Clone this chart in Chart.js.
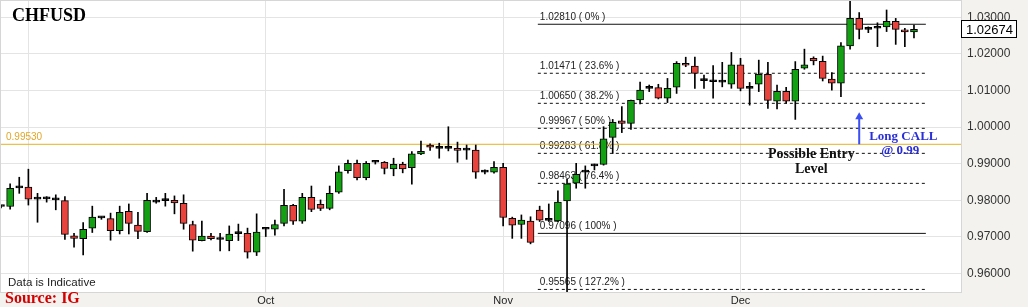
<!DOCTYPE html>
<html>
<head>
<meta charset="utf-8">
<title>CHFUSD</title>
<script src="https://cdn.jsdelivr.net/npm/chart.js@4.4.1/dist/chart.umd.min.js"></script>
<style>
  html, body { margin: 0; padding: 0; background: #f3f2ee; }
  #wrap { width: 1028px; height: 307px; }
</style>
</head>
<body>
<div id="wrap"><canvas id="chart" width="1028" height="307"></canvas></div>
<script>
// daily candles 29 Aug - 23 Dec (Sunday sessions in, Saturdays out)
const opens = [
  0.9783, 0.9783, 0.9834, 0.9836, 0.9803, 0.9804, 0.9801, 0.9799, 0.9703, 0.9695,
  0.9724, 0.9752, 0.9750, 0.9717, 0.9770, 0.9732, 0.9714, 0.9795, 0.9799, 0.9800,
  0.9792, 0.9734, 0.9690, 0.9702, 0.9693, 0.9690, 0.9709, 0.9710, 0.9658, 0.9721,
  0.9721, 0.9737, 0.9786, 0.9743, 0.9808, 0.9789, 0.9778, 0.9822, 0.9881, 0.9901,
  0.9862, 0.9904, 0.9904, 0.9886, 0.9898, 0.9889, 0.9927, 0.9951, 0.9942, 0.9942,
  0.9942, 0.9937, 0.9937, 0.9877, 0.9877, 0.9890, 0.9751, 0.9734, 0.9743, 0.9773,
  0.9745, 0.9744, 0.9798, 0.9847, 0.9877, 0.9894, 0.9898, 0.9972, 1.0017, 1.0010,
  1.0074, 1.0106, 1.0108, 1.0079, 1.0109, 1.0174, 1.0167, 1.0127, 1.0124, 1.0124,
  1.0117, 1.0170, 1.0106, 1.0117, 1.0144, 1.0071, 1.0098, 1.0071, 1.0161, 1.0188,
  1.0180, 1.0131, 1.0120, 1.0222, 1.0297, 1.0267, 1.0270, 1.0274, 1.0289, 1.0266,
  1.0260
];
const highs = [
  0.9786, 0.9845, 0.9863, 0.9885, 0.9819, 0.9810, 0.9815, 0.9810, 0.9710, 0.9739,
  0.9784, 0.9755, 0.9765, 0.9784, 0.9790, 0.9767, 0.9819, 0.9808, 0.9819, 0.9812,
  0.9815, 0.9743, 0.9743, 0.9710, 0.9710, 0.9730, 0.9735, 0.9724, 0.9763, 0.9726,
  0.9746, 0.9830, 0.9789, 0.9819, 0.9839, 0.9801, 0.9839, 0.9894, 0.9910, 0.9910,
  0.9906, 0.9907, 0.9906, 0.9915, 0.9904, 0.9933, 0.9962, 0.9954, 0.9956, 1.0001,
  0.9959, 0.9951, 0.9951, 0.9883, 0.9906, 0.9901, 0.9754, 0.9760, 0.9755, 0.9784,
  0.9790, 0.9826, 0.9857, 0.9901, 0.9894, 0.9899, 1.0001, 1.0021, 1.0056, 1.0074,
  1.0123, 1.0115, 1.0117, 1.0133, 1.0179, 1.0191, 1.0191, 1.0142, 1.0168, 1.0177,
  1.0204, 1.0188, 1.0122, 1.0183, 1.0177, 1.0115, 1.0109, 1.0179, 1.0213, 1.0192,
  1.0194, 1.0149, 1.0231, 1.0345, 1.0313, 1.0274, 1.0285, 1.0320, 1.0297, 1.0270,
  1.0279
];
const lows = [
  0.9779, 0.9776, 0.9819, 0.9787, 0.9740, 0.9795, 0.9774, 0.9693, 0.9672, 0.9651,
  0.9712, 0.9748, 0.9691, 0.9708, 0.9708, 0.9695, 0.9712, 0.9792, 0.9784, 0.9763,
  0.9721, 0.9661, 0.9689, 0.9692, 0.9662, 0.9662, 0.9690, 0.9642, 0.9649, 0.9701,
  0.9705, 0.9730, 0.9734, 0.9737, 0.9769, 0.9772, 0.9774, 0.9819, 0.9874, 0.9856,
  0.9856, 0.9899, 0.9872, 0.9867, 0.9875, 0.9844, 0.9925, 0.9936, 0.9915, 0.9935,
  0.9904, 0.9912, 0.9860, 0.9872, 0.9874, 0.9730, 0.9696, 0.9696, 0.9681, 0.9742,
  0.9742, 0.9742, 0.9540, 0.9833, 0.9833, 0.9883, 0.9896, 0.9928, 0.9985, 0.9994,
  1.0063, 1.0097, 1.0077, 1.0067, 1.0092, 1.0165, 1.0106, 1.0106, 1.0079, 1.0110,
  1.0106, 1.0099, 1.0060, 1.0097, 1.0051, 1.0050, 1.0065, 1.0021, 1.0158, 1.0170,
  1.0126, 1.0101, 1.0083, 1.0213, 1.0241, 1.0258, 1.0220, 1.0261, 1.0226, 1.0220,
  1.0244
];
const closes = [
  0.9783, 0.9833, 0.9835, 0.9803, 0.9803, 0.9804, 0.9801, 0.9707, 0.9696, 0.9721,
  0.9754, 0.9752, 0.9717, 0.9767, 0.9737, 0.9715, 0.9800, 0.9795, 0.9799, 0.9793,
  0.9737, 0.9691, 0.9702, 0.9695, 0.9693, 0.9708, 0.9709, 0.9658, 0.9713, 0.9721,
  0.9734, 0.9786, 0.9743, 0.9808, 0.9775, 0.9778, 0.9819, 0.9878, 0.9901, 0.9862,
  0.9901, 0.9904, 0.9887, 0.9898, 0.9886, 0.9927, 0.9934, 0.9945, 0.9942, 0.9942,
  0.9936, 0.9937, 0.9877, 0.9877, 0.9890, 0.9753, 0.9732, 0.9746, 0.9685, 0.9746,
  0.9745, 0.9795, 0.9845, 0.9871, 0.9877, 0.9894, 0.9968, 1.0013, 1.0010, 1.0073,
  1.0101, 1.0106, 1.0079, 1.0106, 1.0174, 1.0169, 1.0147, 1.0127, 1.0124, 1.0123,
  1.0170, 1.0106, 1.0106, 1.0144, 1.0073, 1.0098, 1.0071, 1.0158, 1.0170, 1.0181,
  1.0133, 1.0120, 1.0222, 1.0297, 1.0267, 1.0267, 1.0270, 1.0289, 1.0267, 1.0260,
  1.02674
];

// month starts as candle index (1 Sep, 2 Oct, 1 Nov, 1 Dec)
const monthTicks = [3, 29, 55, 81];
const monthLabels = ['', 'Oct', 'Nov', 'Dec'];

const yTicks = [0.96, 0.97, 0.98, 0.99, 1.00, 1.01, 1.02, 1.03];

// fibonacci levels
const fibLevels = [1.02810, 1.01471, 1.00650, 0.99967, 0.99283, 0.98463, 0.97096, 0.95565];
const fibPcts = ['0%', '23.6%', '38.2%', '50%', '61.8%', '76.4%', '100%', '127.2%'];
const entryLevel = 0.99530;
const lastPrice = 1.02674;

const X_MIN = 0, X_MAX = 105.15;
const FIB_FROM = 58.8, FIB_TO = 101.3;
const ARROW_AT = 94, ARROW_TIP = 1.0028;

const SERIF = '"Liberation Serif", "Times New Roman", serif';
const SANS = '"Liberation Sans", Arial, sans-serif';

function candleColor(o, c) {
  if (c - o > 0.00015) return '#13a013';
  if (o - c > 0.00015) return '#e8433d';
  return '#000';
}

// keep the plot area where the axes put it, no extra room for edge labels
function noPad(s) {
  s.paddingLeft = 0;
  s.paddingRight = 0;
  s.paddingTop = 0;
  s.paddingBottom = 0;
}

const wicks = highs.map((h, i) => ({ x: i, y: [lows[i], h] }));
const bodies = opens.map((o, i) => ({ x: i, y: [o, closes[i]] }));

const fibSets = fibLevels.map((lvl, k) => ({
  type: 'line',
  data: [{ x: FIB_FROM, y: lvl }, { x: FIB_TO, y: lvl }],
  borderColor: '#111',
  borderWidth: 1,
  borderDash: (k === 0 || k === 6) ? [] : [3, 3],
  pointRadius: 0,
  order: 5
}));

const frame = {
  id: 'frame',
  beforeDraw(chart) {
    const { ctx, chartArea: a } = chart;
    ctx.save();
    ctx.fillStyle = '#f3f2ee';
    ctx.fillRect(0, 0, chart.width, chart.height);
    ctx.fillStyle = '#fff';
    ctx.fillRect(a.left, a.top, a.right - a.left, a.bottom - a.top);
    ctx.strokeStyle = '#d6d6d6';
    ctx.lineWidth = 1;
    ctx.strokeRect(a.left - 0.5, a.top - 0.5, a.right - a.left + 1, a.bottom - a.top + 1);
    ctx.restore();
  }
};

const notes = {
  id: 'notes',
  beforeDatasetsDraw(chart) {
    const { ctx, scales: { x, y } } = chart;
    ctx.save();
    ctx.font = '10px ' + SANS;
    ctx.fillStyle = '#222';
    fibLevels.forEach((lvl, k) => {
      ctx.fillText(lvl.toFixed(5) + ' ( ' + fibPcts[k] + ' )', x.getPixelForValue(FIB_FROM) + 2, y.getPixelForValue(lvl) - 4);
    });
    ctx.fillStyle = '#e2a526';
    ctx.fillText(entryLevel.toFixed(5), 6, y.getPixelForValue(entryLevel) - 4);
    ctx.restore();
  },
  afterDraw(chart) {
    const { ctx, chartArea: a, scales: { x, y } } = chart;
    const ey = y.getPixelForValue(entryLevel);
    ctx.save();
    ctx.fillStyle = '#000';
    ctx.font = 'bold 18px ' + SERIF;
    ctx.fillText('CHFUSD', 12, 21);

    ctx.font = '11.5px ' + SANS;
    ctx.fillStyle = '#222';
    ctx.fillText('Data is Indicative', 8, 286);

    ctx.font = 'bold 16px ' + SERIF;
    ctx.fillStyle = '#d40000';
    ctx.fillText('Source: IG', 5, 303);

    // entry note
    ctx.font = 'bold 14px ' + SERIF;
    ctx.fillStyle = '#111';
    ctx.textAlign = 'center';
    const nx = x.getPixelForValue(88.75);
    ctx.fillText('Possible Entry', nx, ey + 14);
    ctx.fillText('Level', nx, ey + 29);

    ctx.textAlign = 'left';
    ctx.font = 'bold 13px ' + SERIF;
    ctx.fillStyle = '#2a2fd8';
    const ax = x.getPixelForValue(ARROW_AT);
    ctx.fillText('Long CALL', ax + 10, ey - 4);
    ctx.fillText('@ 0.99', ax + 22, ey + 10);

    // last price box on the axis
    const py = Math.round(y.getPixelForValue(lastPrice));
    ctx.fillStyle = '#fff';
    ctx.fillRect(a.right, py - 9, 55, 18);
    ctx.strokeStyle = '#000';
    ctx.lineWidth = 1;
    ctx.strokeRect(a.right + 0.5, py - 8.5, 55, 17);
    ctx.fillStyle = '#000';
    ctx.font = '13px ' + SANS;
    ctx.textBaseline = 'middle';
    ctx.fillText(lastPrice.toFixed(5), a.right + 5, py + 1);
    ctx.restore();
  }
};

new Chart(document.getElementById('chart'), {
  type: 'bar',
  data: {
    datasets: [
      {
        label: 'wick',
        data: wicks,
        backgroundColor: '#000',
        barThickness: 1,
        grouped: false,
        order: 2
      },
      {
        label: 'CHFUSD',
        data: bodies,
        backgroundColor: opens.map((o, i) => candleColor(o, closes[i])),
        borderColor: '#000',
        borderWidth: 1,
        borderSkipped: false,
        barThickness: 7,
        minBarLength: 2,
        grouped: false,
        order: 1
      },
      ...fibSets,
      {
        type: 'line',
        label: 'entry',
        data: [{ x: X_MIN, y: entryLevel }, { x: X_MAX, y: entryLevel }],
        borderColor: '#e8b020',
        borderWidth: 1,
        pointRadius: 0,
        order: 4
      },
      {
        type: 'line',
        label: 'arrow',
        data: [{ x: ARROW_AT, y: entryLevel }, { x: ARROW_AT, y: ARROW_TIP }],
        borderColor: '#3b4ff2',
        backgroundColor: '#3b4ff2',
        borderWidth: 2,
        pointStyle: 'triangle',
        pointRadius: [0, 4.6],
        pointBorderWidth: 0,
        order: 0
      }
    ]
  },
  options: {
    responsive: false,
    animation: false,
    devicePixelRatio: 1,
    layout: { autoPadding: false, padding: { top: 1, left: 1 } },
    plugins: {
      legend: { display: false },
      tooltip: { enabled: false }
    },
    scales: {
      x: {
        type: 'linear',
        min: X_MIN,
        max: X_MAX,
        offset: false,
        afterBuildTicks: s => { s.ticks = monthTicks.map(v => ({ value: v })); },
        afterFit: s => { s.height = 15; noPad(s); },
        ticks: {
          autoSkip: false,
          maxRotation: 0,
          padding: 2,
          color: '#222',
          font: { family: SANS, size: 11 },
          callback: (v, i) => monthLabels[i]
        },
        grid: { color: '#e4e4e4', drawTicks: false, offset: false },
        border: { display: false }
      },
      y: {
        position: 'right',
        min: 0.954945,
        max: 1.034454,
        afterBuildTicks: s => { s.ticks = yTicks.map(v => ({ value: v })); },
        afterFit: s => { s.width = 67; noPad(s); },
        ticks: {
          padding: 6,
          color: '#333',
          font: { family: SANS, size: 12 },
          callback: v => v.toFixed(5)
        },
        grid: { color: '#e4e4e4', drawTicks: false },
        border: { display: false }
      }
    }
  },
  plugins: [frame, notes]
});
</script>
</body>
</html>
